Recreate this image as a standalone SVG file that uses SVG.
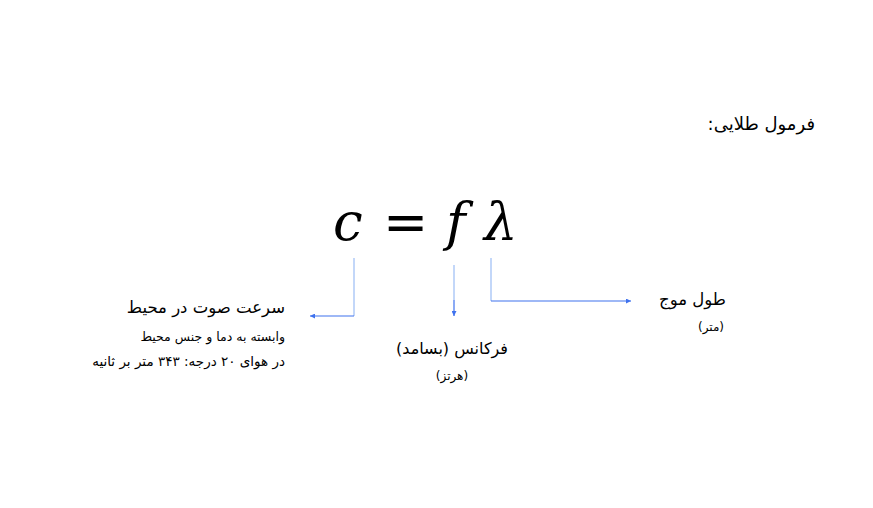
<svg xmlns="http://www.w3.org/2000/svg" width="873" height="508" viewBox="0 0 873 508">
<defs>
<style>
.fa{font-family:"DejaVu Sans","Noto Sans",sans-serif;fill:#000;direction:rtl}
.eq{font-family:"DejaVu Serif","Liberation Serif",serif;font-style:italic;font-size:53px;fill:#000}
.op{font-family:"DejaVu Sans","Liberation Sans",sans-serif;font-size:54px;fill:#000}
.v{stroke:#9bbcf5;stroke-width:1.2;fill:none}
.h{stroke:#3f72ee;stroke-width:1.2;fill:none}
</style>
<marker id="ah" viewBox="0 0 10 10" refX="10" refY="5" markerWidth="8" markerHeight="5" orient="auto" markerUnits="userSpaceOnUse">
<path d="M0,0 L10,5 L0,10 z" fill="#3f72ee"/>
</marker>
</defs>
<rect width="873" height="508" fill="#fff"/>
<g id="title"><text class="fa" x="815" y="130" font-size="18" text-anchor="start">فرمول طلایی:</text></g>
<g id="formula">
<text class="eq" x="333" y="240">c</text>
<text class="op" x="383" y="240">=</text>
<text class="eq" x="446" y="240">f</text>
<text class="eq" x="484" y="240">λ</text>
</g>
<g id="connectors">
<path class="v" d="M354,258 V316"/>
<path class="h" d="M354,316 H310" marker-end="url(#ah)"/>
<path class="v" d="M454,265 V300"/>
<path class="h" d="M454,300 V316" marker-end="url(#ah)"/>
<path class="v" d="M491,258 V301"/>
<path class="h" d="M491,301 H631" marker-end="url(#ah)"/>
</g>
<g id="speed">
<text class="fa" x="285" y="313" font-size="16.5" text-anchor="start">سرعت صوت در محیط</text>
<text class="fa" x="285" y="341" font-size="12.5" text-anchor="start">وابسته به دما و جنس محیط</text>
<text class="fa" x="285" y="366" font-size="13.5" text-anchor="start">در هوای ۲۰ درجه: ۳۴۳ متر بر ثانیه</text>
</g>
<g id="frequency">
<text class="fa" x="452" y="354" font-size="16" text-anchor="middle">فرکانس (بسامد)</text>
<text class="fa" x="452" y="380" font-size="12" text-anchor="middle">(هرتز)</text>
</g>
<g id="wavelength">
<text class="fa" x="726" y="305" font-size="16.5" text-anchor="start">طول موج</text>
<text class="fa" x="724" y="331" font-size="12" text-anchor="start">(متر)</text>
</g>
</svg>
